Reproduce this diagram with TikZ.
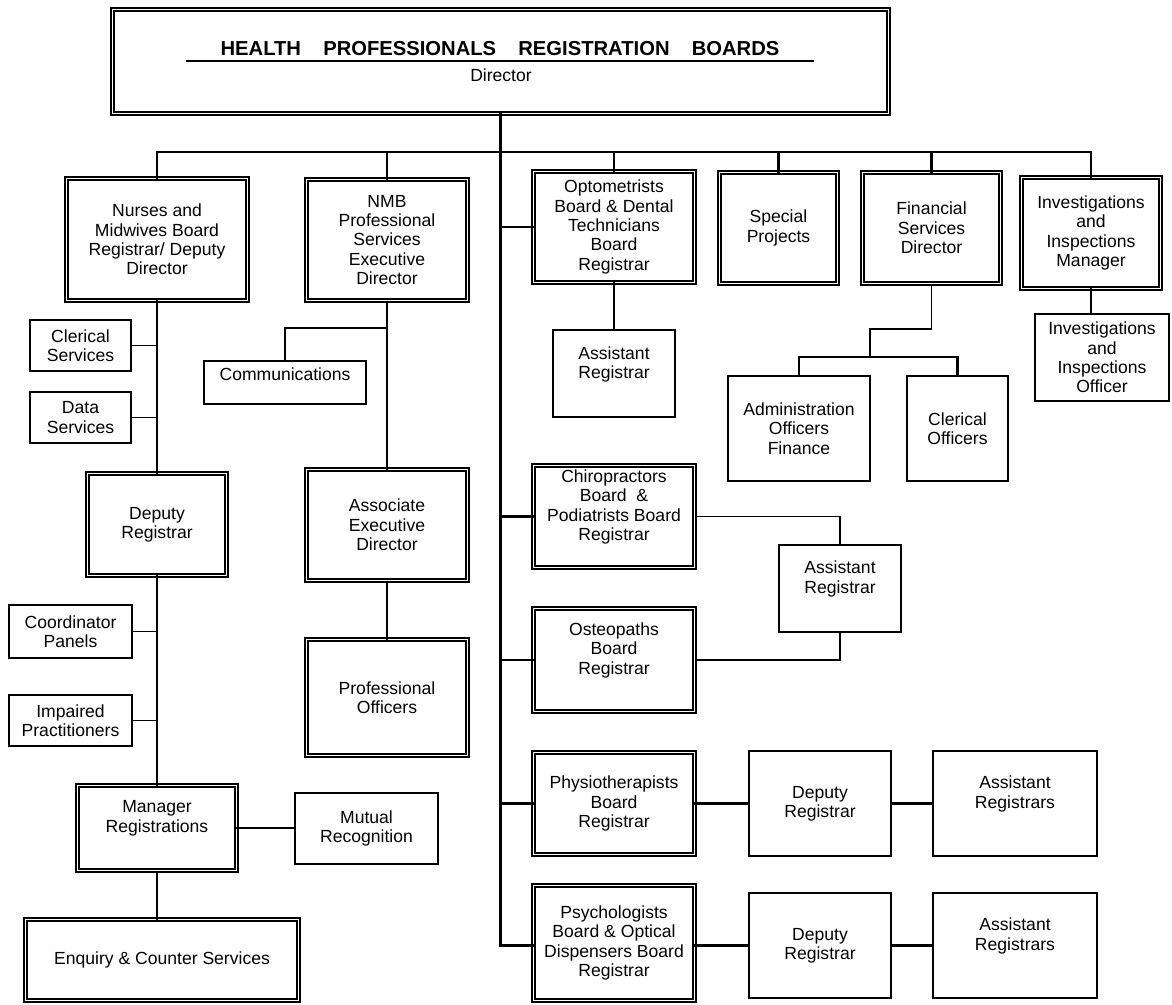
\documentclass[tikz,border=0pt]{standalone}
\usepackage{fontspec}
\setmainfont{Liberation Sans}
\begin{document}
\begin{tikzpicture}[x=0.02cm, y=-0.02cm, line join=miter, line cap=rect]
	\tikzset{every node/.style={font=\fontsize{10}{11}\selectfont, align=center, inner sep=1pt},
		sz/.style 2 args={minimum width=#1*0.02cm, minimum height=#2*0.02cm},
		box/.style={draw, line width=1pt, rectangle},
		dbox/.style={draw, line width=0.8pt, double, double distance=1.1pt, rectangle},
		lift/.style={text depth=#1},
		main/.style={line width=1.2pt},
		sub/.style={line width=0.8pt}}
	\useasboundingbox (0,0) rectangle (1172,1004);
	% head of the boards
	\node[dbox, sz={776}{104}] (top) at (500.5,61.5) {};
	\node (title) at (500,49) {\fontsize{11.5}{13}\selectfont\bfseries\makebox[318pt][s]{HEALTH PROFESSIONALS REGISTRATION BOARDS}};
	\node (dir) at (501,75) {Director};
	\draw[line width=1pt] (187,61)--(813,61);
	% first row
	\node[dbox, sz={181}{122}] (nmbd) at (157,239.5) {Nurses and\\Midwives Board\\Registrar/ Deputy\\Director};
	\node[dbox, sz={161}{121}] (nmbps) at (387,240) {NMB\\Professional\\Services\\Executive\\Director};
	\node[dbox, sz={161}{111}] (opto) at (614,227) {Optometrists\\Board \& Dental\\Technicians\\Board\\Registrar};
	\node[dbox, sz={118}{111}] (spec) at (778.5,228) {Special\\Projects};
	\node[dbox, sz={138}{111}] (fin) at (931.5,228) {Financial\\Services\\Director};
	\node[dbox, sz={139}{111}] (invm) at (1091,233) {Investigations\\and\\Inspections\\Manager};
	% nurses and midwives side
	\node[box, sz={101}{51}] (cls) at (80.5,345.5) {Clerical\\Services};
	\node[box, sz={101}{51}] (dts) at (80.5,417.5) {Data\\Services};
	\node[dbox, sz={139}{102}] (depreg) at (157,524.5) {Deputy\\Registrar};
	\node[box, sz={123}{53}] (coord) at (70.5,631.5) {Coordinator\\Panels};
	\node[box, sz={123}{51}] (imp) at (70.5,720.5) {Impaired\\Practitioners};
	\node[dbox, sz={159}{85}, lift=13pt] (mgr) at (157,828) {Manager\\Registrations};
	\node[box, sz={143}{71}] (mut) at (366.5,828.5) {Mutual\\Recognition};
	\node[dbox, sz={273}{81}] (enq) at (162,960) {Enquiry \& Counter Services};
	% professional services side
	\node[box, sz={162}{43}, lift=9pt] (comm) at (285,382.5) {Communications};
	\node[dbox, sz={161}{111}] (aed) at (387,525) {Associate\\Executive\\Director};
	\node[dbox, sz={161}{116}] (po) at (387,697.5) {Professional\\Officers};
	% other boards
	\node[box, sz={122}{87}, lift=12pt] (asr1) at (614,373.5) {Assistant\\Registrar};
	\node[dbox, sz={161}{102}, lift=13pt] (chiro) at (614,516.5) {Chiropractors\\Board \ \&\\Podiatrists Board\\Registrar};
	\node[dbox, sz={161}{103}, lift=13pt] (osteo) at (614,660) {Osteopaths\\Board\\Registrar};
	\node[box, sz={122}{87}, lift=13pt] (asr2) at (840,588.5) {Assistant\\Registrar};
	\node[dbox, sz={161}{102}] (physio) at (614,803.5) {Physiotherapists\\Board\\Registrar};
	\node[box, sz={142}{105}] (dep1) at (820,803.5) {Deputy\\Registrar};
	\node[box, sz={164}{105}, lift=13pt] (asrs1) at (1015,803.5) {Assistant\\Registrars};
	\node[dbox, sz={161}{115}] (psych) at (614,943) {Psychologists\\Board \& Optical\\Dispensers Board\\Registrar};
	\node[box, sz={142}{105}] (dep2) at (820,945.5) {Deputy\\Registrar};
	\node[box, sz={164}{105}, lift=13pt] (asrs2) at (1015,945.5) {Assistant\\Registrars};
	% finance and investigations
	\node[box, sz={142}{105}] (adm) at (799,428.5) {Administration\\Officers\\Finance};
	\node[box, sz={101}{105}] (clo) at (957.5,428.5) {Clerical\\Officers};
	\node[box, sz={134}{87}] (invo) at (1102,357.5) {Investigations\\and\\Inspections\\Officer};
	% connectors
	\coordinate (busL) at (157,152);
	\coordinate (busR) at (1091,152);
	\coordinate (commK) at (387,328);
	\coordinate (finB) at (870,329);
	\coordinate (finA) at (870,357);
	\draw[main] (busL)--(busR);
	\foreach \n in {nmbd,nmbps,opto,spec,fin,invm}
	\draw[main] (\n.north)--(\n.north |- busL);
	\draw[main] (top.south)--(top.south |- dep2.west)--(psych.west |- dep2.west);
	\foreach \n in {opto,chiro,osteo,physio}
	\draw[main] (top.south |- \n.west)--(\n.west);
	\draw[main] (opto.south)--(asr1.north);
	\draw[sub] (fin.south) |- (finB)--(finA);
	\draw[main] (adm.north) |- (finA) -| (clo.north);
	\draw[main] (invm.south)--(invm.south |- invo.north);
	\draw[sub] (chiro.east) -| (asr2.north);
	\draw[sub] (osteo.east) -| (asr2.south);
	\draw[main] (physio.east)--(dep1.west);
	\draw[main] (dep1.east)--(asrs1.west);
	\draw[main] (psych.east |- dep2.west)--(dep2.west);
	\draw[main] (dep2.east)--(asrs2.west);
	\draw[main] (nmbd.south)--(depreg.north);
	\draw[main] (depreg.south)--(mgr.north);
	\foreach \n in {cls,dts,coord,imp}
	\draw[sub] (\n.east)--(\n.east -| depreg.north);
	\draw[sub] (nmbps.south)--(aed.north);
	\draw[sub] (aed.south)--(po.north);
	\draw[sub] (comm.north) |- (commK);
	\draw[main] (mgr.east)--(mgr.east -| mut.west);
	\draw[sub] (mgr.south)--(mgr.south |- enq.north);
\end{tikzpicture}
\end{document}
